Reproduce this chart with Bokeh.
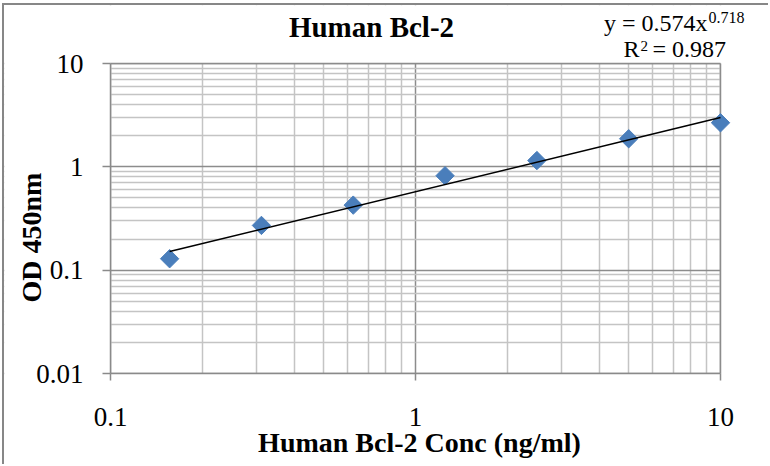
import numpy as np
from bokeh.plotting import figure
from bokeh.models import Range1d, FixedTicker, CustomJSTickFormatter, Label, BoxAnnotation
from bokeh.embed import file_html
from bokeh.resources import INLINE

# ---- data ----
conc = [0.15625, 0.3125, 0.625, 1.25, 2.5, 5.0, 10.0]      # ng/ml
od = [0.129, 0.271, 0.426, 0.820, 1.15, 1.87, 2.67]        # OD 450nm
fit_coef = 0.574
fit_exp = 0.718
r_squared = 0.987
x_major = [0.1, 1.0, 10.0]
x_major_labels = ["0.1", "1", "10"]
y_major = [0.01, 0.1, 1.0, 10.0]
y_major_labels = ["0.01", "0.1", "1", "10"]
title_text = "Human Bcl-2"
x_title = "Human Bcl-2 Conc (ng/ml)"
y_title = "OD 450nm"

# minor (gridline) positions: 2..9 within each decade
x_minor = [m * d for d in (0.1, 1.0) for m in range(2, 10)]
y_minor = [m * d for d in (0.01, 0.1, 1.0) for m in range(2, 10)]

FONT = "Liberation Serif"
GRID_MAJOR = "#8C8C8C"
GRID_MINOR = "#C4C4C4"
AXIS = "#8A8A8A"
MARKER = "#4A7EBB"

# ---- layout (pixels, figure coordinates) ----
W, H = 766, 461
PL, PR, PT, PB = 106, 716, 58, 368          # plot-area edges
xdec = (PR - PL) / (np.log10(x_major[-1]) - np.log10(x_major[0]))
ydec = (PB - PT) / (np.log10(y_major[-1]) - np.log10(y_major[0]))
x_lo = 10 ** (np.log10(x_major[0]) - PL / xdec)
x_hi = 10 ** (np.log10(x_major[-1]) + (W - PR) / xdec)
y_lo = 10 ** (np.log10(y_major[0]) - (H - PB) / ydec)
y_hi = 10 ** (np.log10(y_major[-1]) + PT / ydec)

p = figure(
    x_axis_type="log", y_axis_type="log",
    x_range=Range1d(x_lo, x_hi), y_range=Range1d(y_lo, y_hi),
    frame_width=W, frame_height=H,
    min_border=0, min_border_left=0, min_border_right=0,
    min_border_top=0, min_border_bottom=0,
    title=None,
    output_backend="svg", toolbar_location=None,
    background_fill_color="white", border_fill_color="white",
    outline_line_color=None,
    styles={"margin-left": "4px", "margin-top": "5px",
            "box-shadow": "-2px -2px 0 0 #878787"},
)

fmt_code = """
const i = vals.findIndex(v => Math.abs(v - tick) < 1e-9 * Math.max(1, Math.abs(v)));
return i >= 0 ? labs[i] : "";
"""
p.xaxis.ticker = FixedTicker(ticks=x_major, minor_ticks=x_minor)
p.yaxis.ticker = FixedTicker(ticks=y_major, minor_ticks=y_minor)
p.xaxis.formatter = CustomJSTickFormatter(args=dict(vals=x_major, labs=x_major_labels), code=fmt_code)
p.yaxis.formatter = CustomJSTickFormatter(args=dict(vals=y_major, labs=y_major_labels), code=fmt_code)
p.xaxis.fixed_location = y_major[0]
p.yaxis.fixed_location = x_major[0]
p.xaxis.bounds = (x_major[0], x_major[-1])
p.yaxis.bounds = (y_major[0], y_major[-1])

for ax in (p.xaxis, p.yaxis):
    ax.axis_line_color = AXIS
    ax.axis_line_width = 1.5
    ax.major_tick_line_color = AXIS
    ax.major_tick_line_width = 1.5
    ax.major_tick_in = 0
    ax.minor_tick_line_color = None
    ax.major_label_text_font = FONT
    ax.major_label_text_font_size = "27px"
    ax.major_label_text_color = "black"
p.xaxis.major_tick_out = 7
p.xaxis.major_label_standoff = 27
p.yaxis.major_tick_out = 8
p.yaxis.major_label_standoff = 19

for g in (p.xgrid, p.ygrid):
    g.grid_line_color = GRID_MAJOR
    g.grid_line_width = 1.5
    g.minor_grid_line_color = GRID_MINOR
    g.minor_grid_line_width = 1.5

# keep gridlines inside the plot area
for kw in (dict(right=x_major[0]), dict(left=x_major[-1]),
           dict(top=y_major[0]), dict(bottom=y_major[-1])):
    p.add_layout(BoxAnnotation(fill_color="white", fill_alpha=1.0,
                               line_color=None, level="underlay", **kw))

# plot-area top / right edges
p.line([x_major[0], x_major[-1]], [y_major[-1], y_major[-1]], line_color=GRID_MAJOR, line_width=1.5)
p.line([x_major[-1], x_major[-1]], [y_major[0], y_major[-1]], line_color=GRID_MAJOR, line_width=1.5)

# data markers (diamonds)
p.scatter(conc, od, marker="square", size=13, angle=np.pi / 4,
          fill_color=MARKER, line_color=MARKER)

# power trendline from the printed equation, over the data extent
x_fit = [min(conc), max(conc)]
y_fit = [fit_coef * x ** fit_exp for x in x_fit]
p.line(x_fit, y_fit, line_color="black", line_width=1.6)

def lab(x, y, text, size, align="left", bold=False, angle=0.0):
    return Label(x=x, y=y, x_units="screen", y_units="screen", text=text,
                 text_align=align, text_baseline="alphabetic", angle=angle,
                 text_font=FONT, text_font_size=size,
                 text_font_style="bold" if bold else "normal",
                 text_color="black", level="overlay")

# texts (screen units: from canvas left / canvas bottom)
p.add_layout(lab(367, 440, title_text, "29px", align="center", bold=True))
p.add_layout(lab(703, 444, f"y = {fit_coef}x", "24px", align="right"))
p.add_layout(lab(704, 449, f"{fit_exp}", "16px"))
p.add_layout(lab(619, 418, "R", "24px"))
p.add_layout(lab(636, 421, "2", "15px"))
p.add_layout(lab(648, 418, f"= {r_squared}", "24px"))
p.add_layout(lab(415, 24, x_title, "28px", align="center", bold=True))
p.add_layout(lab(27, 229, y_title, "28px", align="center", bold=True, angle=np.pi / 2))

open("out.html", "w").write(file_html(p, INLINE))
